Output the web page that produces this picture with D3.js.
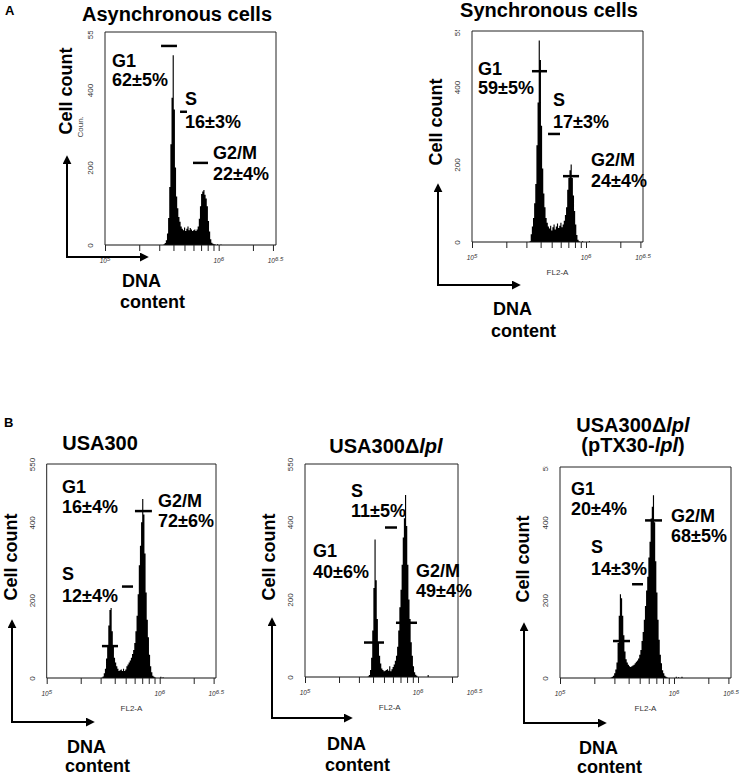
<!DOCTYPE html>
<html>
<head>
<meta charset="utf-8">
<script src="https://cdn.jsdelivr.net/npm/d3@7/dist/d3.min.js"></script>
<style>
body { margin: 0; background: #fff; }
svg { display: block; }
</style>
</head>
<body>
<div id="figure"></div>
<script>
// histogram bins, log10 of FL2-A channel
var binLog = [5.44,5.45,5.46,5.47,5.48,5.49,
    5.50,5.51,5.52,5.53,5.54,5.55,5.56,5.57,5.58,5.59,
    5.60,5.61,5.62,5.63,5.64,5.65,5.66,5.67,5.68,5.69,
    5.70,5.71,5.72,5.73,5.74,5.75,5.76,5.77,5.78,5.79,
    5.80,5.81,5.82,5.83,5.84,5.85,5.86,5.87,5.88,5.89,
    5.90,5.91,5.92,5.93,5.94,5.95,5.96,5.97,5.98,5.99,
    6.00,6.01,6.02,6.03,6.04,6.05,6.06,6.07,6.08,6.09,6.10];

// cell counts per bin
var asyncCounts = [0,0,0,0,0,0, 0,0,2,5,12,30,70,150,260,380, 490,350,200,125,95,72,60,48,42,38,
    45,36,42,48,38,44,40,36,38,40, 36,40,48,68,100,132,138,142,130,120, 100,62,35,15,6,3,2,1,0,2, 0,0,1,0,0,0,0,0,0,0,0];
var syncCounts = [0,0,0,0,0,0, 0,2,20,40,62,100,150,250,360,520, 470,300,190,125,90,62,50,40,35,42,
    30,38,45,32,40,48,36,42,50,38, 45,55,70,90,135,165,185,200,165,120, 80,45,18,6,2,0,0,2,0,0, 0,0,0,2,0,0,0,0,0,0,0];
var usa300Counts = [0,0,0,0,0,1, 4,12,24,50,85,135,175,180,120,80, 52,40,30,24,18,20,22,18,24,18,
    22,30,35,40,45,52,62,72,90,120, 160,215,290,340,400,460,420,320,220,150, 105,60,30,15,6,3,1,0,0,0, 0,3,0,2,0,0,0,0,0,0,0];
var lplCounts = [0,0,0,0,0,0, 0,0,0,0,0,0,1,5,18,50, 120,230,355,250,150,90,55,35,22,18,
    15,16,18,20,16,28,15,20,26,32, 42,55,78,120,180,225,290,360,410,470, 390,290,200,150,90,55,28,12,6,3, 0,0,0,0,0,0,0,0,0,5,0];
var compCounts = [0,1,3,6,12,22, 40,90,160,215,205,160,110,68,48,40, 34,30,28,30,32,34,38,42,45,50,
    60,72,95,118,150,185,225,260,310,350, 410,440,470,400,300,220,150,98,60,38, 20,12,6,3,1,0,0,0,0,0, 0,0,3,0,2,0,0,3,0,0,0];

// gate markers: [log10 start, log10 end, count] for G1, S, G2/M
var asyncGates = [[5.493,5.633,514],[5.660,5.721,344],[5.774,5.906,212]];
var syncGates = [[5.526,5.658,441],[5.667,5.772,279],[5.798,5.939,170]];
var usa300Gates = [[5.489,5.631,82],[5.666,5.764,235],[5.781,5.931,429]];
var lplGates = [[5.522,5.699,89],[5.708,5.814,386],[5.805,5.991,140]];
var compGates = [[5.465,5.614,95],[5.632,5.728,241],[5.746,5.895,405]];

var phases = ["G1","S","G2/M"];
var asyncPct = ["62±5%","16±3%","22±4%"];
var syncPct = ["59±5%","17±3%","24±4%"];
var usa300Pct = ["16±4%","12±4%","72±6%"];
var lplPct = ["40±6%","11±5%","49±4%"];
var compPct = ["20±4%","14±3%","68±5%"];

var yTicks = [0,200,400,550];
var xMinorTicks = [1e5,2e5,3e5,4e5,5e5,6e5,7e5,8e5,9e5,1e6,2e6,3e6];
var xLabelExps = ["5","6","6.5"];

var panels = [
    {counts: asyncCounts, gates: asyncGates, pct: asyncPct,
        title: [[["Asynchronous cells",false]]]},
    {counts: syncCounts, gates: syncGates, pct: syncPct,
        title: [[["Synchronous cells",false]]]},
    {counts: usa300Counts, gates: usa300Gates, pct: usa300Pct,
        title: [[["USA300",false]]]},
    {counts: lplCounts, gates: lplGates, pct: lplPct,
        title: [[["USA300Δ",false],["lpl",true]]]},
    {counts: compCounts, gates: compGates, pct: compPct,
        title: [[["USA300Δ",false],["lpl",true]],[["(pTX30-",false],["lpl",true],[")",false]]]}
];

// layout of each panel on the page
var layout = [
    {left:105, decade:113.7, bottom:245, top:32, frameTop:32, frameRight:276, clipTop:true, fl2:false, coun:true,
        titleX:177, titleY:[21], labels:[[112,67,86],[185,105,128],[213,159,180]],
        arrow:{x:67, y:257, tipY:155, tipX:149}, cell:{x:72, y:91}, dna:{x:122, y:287, y2:308}},
    {left:472, decade:114, bottom:242, top:29, frameTop:31, frameRight:643, clipTop:true, fl2:true, coun:false,
        titleX:549, titleY:[17], labels:[[478,75,94],[553,106,128],[591,166,187]],
        arrow:{x:438, y:285, tipY:183, tipX:521}, cell:{x:442, y:122}, dna:{x:493, y:315, y2:337}},
    {left:46.7, decade:113, bottom:678, top:464, frameTop:464, frameRight:216, clipTop:false, fl2:true, coun:false,
        titleX:100, titleY:[450], labels:[[62,493,513],[62,580,602],[158,507,527]],
        arrow:{x:12, y:722, tipY:619, tipX:95}, cell:{x:17, y:557}, dna:{x:67, y:753, y2:772}},
    {left:305, decade:113, bottom:677, top:464, frameTop:464, frameRight:458, clipTop:false, fl2:true, coun:false,
        titleX:386, titleY:[453], labels:[[313,557,578],[351,497,517],[416,577,597]],
        arrow:{x:272, y:718, tipY:617, tipX:353}, cell:{x:275, y:557}, dna:{x:327, y:750, y2:771}},
    {left:560, decade:114, bottom:678, top:464, frameTop:467, frameRight:731, clipTop:true, fl2:true, coun:false,
        titleX:633, titleY:[432,452], labels:[[571,495,515],[591,553,575],[671,522,542]],
        arrow:{x:524, y:723, tipY:622, tipX:607}, cell:{x:529, y:559}, dna:{x:579, y:754, y2:773}}
];

var svg = d3.select("#figure")
    .append("svg")
    .attr("width", 744)
    .attr("height", 778)
    .style("font-family", "'Liberation Sans', Arial, sans-serif");

var defs = svg.append("defs");
defs.append("marker")
    .attr("id", "arrowhead")
    .attr("viewBox", "0 0 10 10")
    .attr("refX", 8)
    .attr("refY", 5)
    .attr("markerWidth", 4.5)
    .attr("markerHeight", 4.5)
    .attr("orient", "auto")
    .append("path")
    .attr("d", "M0,0L10,5L0,10z")
    .attr("fill", "#000");

// panel letters
svg.append("text").attr("x", 5).attr("y", 15).attr("font-size", 13).attr("font-weight", "bold").text("A");
svg.append("text").attr("x", 4).attr("y", 427).attr("font-size", 13).attr("font-weight", "bold").text("B");

function drawPanel(p, i) {
    var L = layout[i];
    var x = d3.scaleLog()
        .domain([1e5, Math.pow(10, 6.5)])
        .range([L.left, L.left + 1.5 * L.decade]);
    var y = d3.scaleLinear()
        .domain([0, 550])
        .range([L.bottom, L.top]);

    var g = svg.append("g");

    // histogram
    var bins = binLog.map(function(v, k) { return {lg: v, c: p.counts[k]}; });
    var area = d3.area()
        .curve(d3.curveStep)
        .x(function(d) { return x(Math.pow(10, d.lg)); })
        .y0(y(0))
        .y1(function(d) { return y(d.c); });
    g.append("path").datum(bins).attr("d", area).attr("fill", "#000");

    // frame
    g.append("path")
        .attr("d", "M" + L.left + "," + L.bottom + "V" + L.frameTop + "H" + L.frameRight + "V" + L.bottom)
        .attr("fill", "none")
        .attr("stroke", "#222")
        .attr("stroke-width", 1);

    // x axis (log)
    var xAxis = d3.axisBottom(x)
        .tickValues(xMinorTicks.filter(function(v) { return x(v) <= L.frameRight + 0.5; }))
        .tickSize(6)
        .tickFormat("");
    var xg = g.append("g")
        .attr("transform", "translate(0," + L.bottom + ")")
        .call(xAxis);
    xg.select(".domain").attr("d", "M" + L.left + ",0H" + L.frameRight).attr("stroke", "#111");
    xg.selectAll(".tick line").attr("stroke", "#222");

    var xl = g.selectAll(".xlab")
        .data(xLabelExps)
        .enter()
        .append("text")
        .attr("x", function(d) { return x(Math.pow(10, +d)); })
        .attr("y", L.bottom + 18)
        .attr("text-anchor", "middle")
        .attr("font-size", 6.5)
        .attr("font-style", "italic")
        .attr("fill", "#333")
        .text("10");
    xl.append("tspan")
        .attr("dy", -2.5)
        .attr("font-size", 6)
        .text(function(d) { return d; });

    if (L.fl2) {
        g.append("text")
            .attr("x", x(Math.pow(10, 5.75)))
            .attr("y", L.bottom + 33)
            .attr("text-anchor", "middle")
            .attr("font-size", 8)
            .attr("fill", "#333")
            .text("FL2-A");
    }

    // y axis
    var yAxis = d3.axisLeft(y)
        .tickValues(yTicks)
        .tickSize(0)
        .tickFormat(d3.format("d"));
    var yg = g.append("g")
        .attr("transform", "translate(" + L.left + ",0)")
        .call(yAxis);
    yg.select(".domain").remove();
    yg.selectAll(".tick text")
        .attr("transform", "rotate(-90)")
        .attr("x", 0)
        .attr("y", -12)
        .attr("dy", 0)
        .attr("text-anchor", "middle")
        .attr("font-size", 8)
        .attr("font-family", "'Liberation Sans', Arial, sans-serif")
        .attr("fill", "#333");
    if (L.clipTop) {
        defs.append("clipPath").attr("id", "yclip" + i)
            .append("rect")
            .attr("x", L.left - 30).attr("y", L.frameTop - 1)
            .attr("width", 30).attr("height", L.bottom - L.frameTop + 20);
        yg.attr("clip-path", "url(#yclip" + i + ")");
        // clip-path is in the group's user space, so undo the translate
        d3.select("#yclip" + i + " rect").attr("x", -30);
    }

    if (L.coun) {
        g.append("text")
            .attr("transform", "translate(" + (L.left - 22) + "," + y(200) + ") rotate(-90)")
            .attr("x", 30)
            .attr("font-size", 8)
            .attr("fill", "#444")
            .text("Coun.");
    }

    // gate markers
    g.selectAll(".gate")
        .data(p.gates)
        .enter()
        .append("line")
        .attr("x1", function(d) { return x(Math.pow(10, d[0])); })
        .attr("x2", function(d) { return x(Math.pow(10, d[1])); })
        .attr("y1", function(d) { return y(d[2]); })
        .attr("y2", function(d) { return y(d[2]); })
        .attr("stroke", "#000")
        .attr("stroke-width", 2.5);

    // phase labels
    phases.forEach(function(ph, k) {
        var pos = L.labels[k];
        g.append("text").attr("x", pos[0]).attr("y", pos[1])
            .attr("font-size", 18).attr("font-weight", "bold").text(ph);
        g.append("text").attr("x", pos[0]).attr("y", pos[2])
            .attr("font-size", 18).attr("font-weight", "bold").text(p.pct[k]);
    });

    // title
    p.title.forEach(function(line, k) {
        var t = g.append("text")
            .attr("x", L.titleX)
            .attr("y", L.titleY[k])
            .attr("text-anchor", "middle")
            .attr("font-size", 20)
            .attr("font-weight", "bold");
        line.forEach(function(seg) {
            t.append("tspan")
                .attr("font-style", seg[1] ? "italic" : "normal")
                .text(seg[0]);
        });
    });

    // arrows
    var A = L.arrow;
    g.append("line")
        .attr("x1", A.x).attr("y1", A.y).attr("x2", A.x).attr("y2", A.tipY + 2)
        .attr("stroke", "#000").attr("stroke-width", 2)
        .attr("marker-end", "url(#arrowhead)");
    g.append("line")
        .attr("x1", A.x - 1).attr("y1", A.y).attr("x2", A.tipX - 2).attr("y2", A.y)
        .attr("stroke", "#000").attr("stroke-width", 2)
        .attr("marker-end", "url(#arrowhead)");

    g.append("text")
        .attr("transform", "translate(" + L.cell.x + "," + L.cell.y + ") rotate(-90)")
        .attr("text-anchor", "middle")
        .attr("font-size", 18)
        .attr("font-weight", "bold")
        .text("Cell count");

    g.append("text").attr("x", L.dna.x).attr("y", L.dna.y)
        .attr("font-size", 18).attr("font-weight", "bold").text("DNA");
    g.append("text").attr("x", L.dna.x - 2).attr("y", L.dna.y2)
        .attr("font-size", 18).attr("font-weight", "bold").text("content");
}

panels.forEach(drawPanel);
</script>
</body>
</html>
